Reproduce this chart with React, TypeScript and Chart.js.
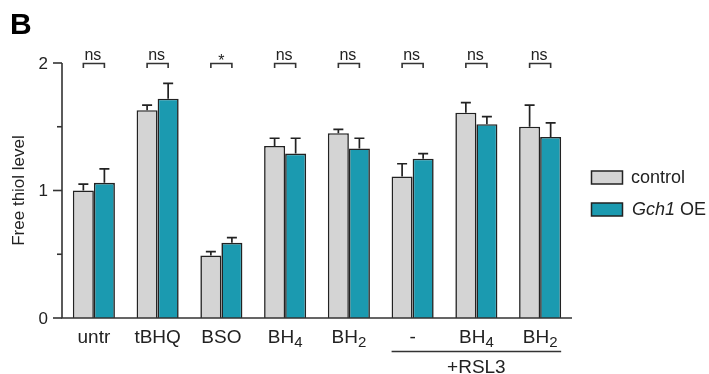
import React, { useEffect, useRef } from "react";
import { Chart, registerables } from "chart.js";

Chart.register(...registerables);

// Treatment groups (main label text + optional subscript)
const categories = ["untr", "tBHQ", "BSO", "BH", "BH", "-", "BH", "BH"];
const categorySubs = ["", "", "", "4", "2", "", "4", "2"];

// Free thiol level, mean and upper error (SEM)
const controlMeans = [1.0, 1.63, 0.49, 1.35, 1.45, 1.11, 1.61, 1.5];
const controlErr = [0.05, 0.04, 0.03, 0.06, 0.03, 0.1, 0.08, 0.17];
const gchMeans = [1.06, 1.72, 0.59, 1.29, 1.33, 1.25, 1.52, 1.42];
const gchErr = [0.11, 0.12, 0.04, 0.12, 0.08, 0.04, 0.06, 0.11];

// Pairwise significance per group
const significance = ["ns", "ns", "*", "ns", "ns", "ns", "ns", "ns"];

// Groups treated with RSL3 (indices into categories)
const rsl3Groups = [5, 6, 7];

const yTicks = [0, 0.5, 1, 1.5, 2];

const GRAY = "#d4d4d4";
const TEAL = "#1b9ab0";
const INK = "#222222";
const FONT = "'Liberation Sans', Arial, sans-serif";

const overlayPlugin = {
  id: "figureOverlay",
  afterDatasetsDraw(chart: any) {
    const ctx: CanvasRenderingContext2D = chart.ctx;
    const yScale = chart.scales.y;
    const m0 = chart.getDatasetMeta(0);
    const m1 = chart.getDatasetMeta(1);
    const errs = [controlErr, gchErr];
    const means = [controlMeans, gchMeans];
    ctx.save();
    ctx.strokeStyle = INK;
    ctx.lineWidth = 1.7;
    [m0, m1].forEach((meta: any, d: number) => {
      meta.data.forEach((bar: any, i: number) => {
        const top = yScale.getPixelForValue(means[d][i] + errs[d][i]);
        ctx.beginPath();
        ctx.moveTo(bar.x, bar.y);
        ctx.lineTo(bar.x, top);
        ctx.moveTo(bar.x - 5, top);
        ctx.lineTo(bar.x + 5, top);
        ctx.stroke();
      });
    });
    ctx.restore();
  },
  afterDraw(chart: any) {
    const ctx: CanvasRenderingContext2D = chart.ctx;
    const { left, right, top, bottom } = chart.chartArea;
    const xScale = chart.scales.x;
    const yScale = chart.scales.y;
    const m0 = chart.getDatasetMeta(0);
    const m1 = chart.getDatasetMeta(1);
    ctx.save();
    ctx.strokeStyle = "#333333";
    ctx.fillStyle = INK;
    ctx.lineWidth = 1.6;

    // axes
    ctx.beginPath();
    ctx.moveTo(left, yScale.getPixelForValue(2));
    ctx.lineTo(left, bottom);
    ctx.lineTo(right, bottom);
    ctx.stroke();

    // y ticks
    ctx.font = `17px ${FONT}`;
    ctx.textAlign = "right";
    ctx.textBaseline = "middle";
    yTicks.forEach((v) => {
      const y = yScale.getPixelForValue(v);
      const major = Number.isInteger(v);
      ctx.beginPath();
      ctx.moveTo(left - (major ? 9 : 5), y);
      ctx.lineTo(left, y);
      ctx.stroke();
      if (major) ctx.fillText(String(v), left - 14, y + 1);
    });

    // y title
    ctx.save();
    ctx.translate(19, (top + bottom) / 2);
    ctx.rotate(-Math.PI / 2);
    ctx.textAlign = "center";
    ctx.textBaseline = "middle";
    ctx.font = `17px ${FONT}`;
    ctx.fillText("Free thiol level", 0, 0);
    ctx.restore();

    // category labels with subscripts
    categories.forEach((lab, i) => {
      const cx = xScale.getPixelForValue(i);
      const sub = categorySubs[i];
      ctx.font = `19px ${FONT}`;
      const w1 = ctx.measureText(lab).width;
      ctx.font = `15px ${FONT}`;
      const w2 = sub ? ctx.measureText(sub).width : 0;
      const x0 = cx - (w1 + w2) / 2;
      ctx.textAlign = "left";
      ctx.textBaseline = "alphabetic";
      ctx.font = `19px ${FONT}`;
      ctx.fillText(lab, x0, 343);
      if (sub) {
        ctx.font = `15px ${FONT}`;
        ctx.fillText(sub, x0 + w1, 347);
      }
    });

    // +RSL3 group line
    const gFirst = rsl3Groups[0];
    const gLast = rsl3Groups[rsl3Groups.length - 1];
    const b0 = m0.data[gFirst];
    const b1 = m1.data[gLast];
    const lx0 = b0.x - b0.width / 2;
    const lx1 = b1.x + b1.width / 2;
    ctx.lineWidth = 1.3;
    ctx.beginPath();
    ctx.moveTo(lx0, 351.5);
    ctx.lineTo(lx1, 351.5);
    ctx.stroke();
    ctx.font = `19px ${FONT}`;
    ctx.textAlign = "center";
    ctx.textBaseline = "alphabetic";
    ctx.fillText("+RSL3", (lx0 + lx1) / 2, 373);

    // significance brackets
    const by = yScale.getPixelForValue(2) + 0.5;
    ctx.lineWidth = 1.6;
    significance.forEach((s, i) => {
      const x1 = m0.data[i].x;
      const x2 = m1.data[i].x;
      ctx.beginPath();
      ctx.moveTo(x1, by + 4.5);
      ctx.lineTo(x1, by);
      ctx.lineTo(x2, by);
      ctx.lineTo(x2, by + 4.5);
      ctx.stroke();
      ctx.font = `16px ${FONT}`;
      ctx.textAlign = "center";
      ctx.textBaseline = "alphabetic";
      if (s === "*") ctx.fillText(s, (x1 + x2) / 2, by + 2);
      else ctx.fillText(s, (x1 + x2) / 2 - 1, by - 4);
    });

    // legend
    const legend = [
      { color: GRAY, y: 171 },
      { color: TEAL, y: 203 },
    ];
    ctx.lineWidth = 1.5;
    legend.forEach((l) => {
      ctx.fillStyle = l.color;
      ctx.fillRect(591.5, l.y, 31, 13);
      ctx.strokeStyle = INK;
      ctx.strokeRect(591.5, l.y, 31, 13);
    });
    ctx.fillStyle = INK;
    ctx.textAlign = "left";
    ctx.textBaseline = "middle";
    ctx.font = `18px ${FONT}`;
    ctx.fillText("control", 631, 178);
    ctx.font = `italic 18px ${FONT}`;
    ctx.fillText("Gch1", 632, 210);
    const gw = ctx.measureText("Gch1").width;
    ctx.font = `18px ${FONT}`;
    ctx.fillText(" OE", 632 + gw, 210);

    // panel letter
    ctx.font = `bold 30px ${FONT}`;
    ctx.fillStyle = "#000000";
    ctx.textAlign = "left";
    ctx.textBaseline = "alphabetic";
    ctx.fillText("B", 10, 34);

    ctx.restore();
  },
};

export default function App() {
  const canvasRef = useRef<HTMLCanvasElement | null>(null);

  useEffect(() => {
    if (!canvasRef.current) return;
    const chart = new Chart(canvasRef.current, {
      type: "bar",
      data: {
        labels: categories.map((c, i) => c + categorySubs[i]),
        datasets: [
          {
            label: "control",
            data: controlMeans,
            backgroundColor: GRAY,
            borderColor: INK,
            borderWidth: 1.6,
            categoryPercentage: 0.66,
            barPercentage: 1,
          },
          {
            label: "Gch1 OE",
            data: gchMeans,
            backgroundColor: TEAL,
            borderColor: INK,
            borderWidth: 1.6,
            categoryPercentage: 0.66,
            barPercentage: 1,
          },
        ],
      },
      options: {
        responsive: false,
        animation: false,
        devicePixelRatio: 1,
        layout: { padding: { left: 62, right: 137, top: 63, bottom: 56 } },
        scales: {
          x: { display: false, offset: true },
          y: { display: false, min: 0, max: 2 },
        },
        plugins: {
          legend: { display: false },
          tooltip: { enabled: false },
        },
      },
      plugins: [overlayPlugin],
    });
    return () => chart.destroy();
  }, []);

  return (
    <div style={{ position: "absolute", left: 0, top: 0, width: 709, height: 374, background: "#fff" }}>
      <canvas ref={canvasRef} width={709} height={374} />
    </div>
  );
}
